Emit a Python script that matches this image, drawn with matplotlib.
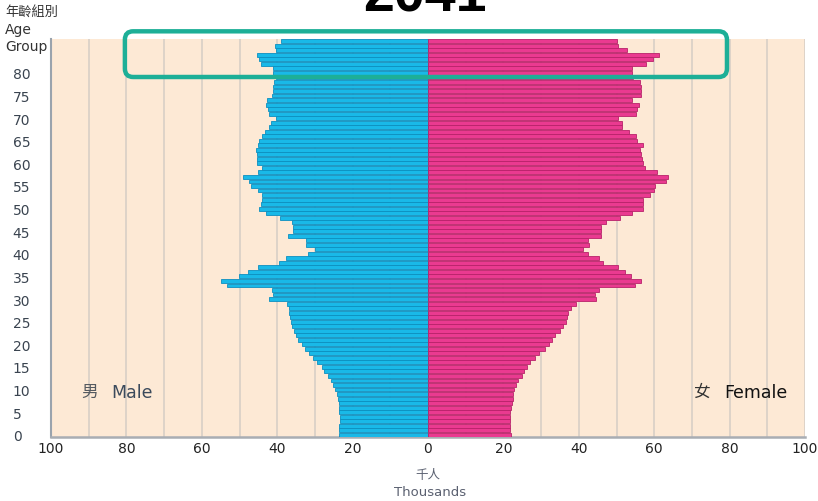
import matplotlib.pyplot as plt
from matplotlib.patches import FancyBboxPatch
import numpy as np

plt.rcParams['font.family'] = ['DejaVu Sans', 'Noto Sans CJK TC']

# single year of age, thousands of persons
ages = np.arange(0, 88)
male = [23.7, 23.7, 23.5, 23.3, 23.3, 23.5, 23.5, 23.6, 23.8, 24.2,
        24.6, 25.1, 25.6, 26.4, 27.6, 28.2, 29.5, 30.5, 31.5, 32.6,
        33.5, 34.6, 35.0, 35.5, 36.0, 36.4, 36.6, 36.8, 37.0, 37.3,
        42.2, 41.0, 41.5, 53.2, 55.0, 50.1, 47.7, 45.2, 39.6, 37.7,
        31.8, 30.0, 32.4, 32.4, 37.1, 35.8, 35.8, 36.2, 39.3, 43.0,
        44.8, 44.3, 44.0, 43.9, 45.2, 47.0, 47.5, 49.0, 45.2, 44.1,
        45.4, 45.4, 45.3, 45.7, 45.2, 44.8, 44.1, 43.2, 42.2, 41.6,
        40.3, 42.2, 42.5, 43.0, 42.6, 41.5, 41.2, 41.2, 40.8, 40.3,
        41.0, 41.2, 44.3, 44.7, 45.4, 40.3, 40.6, 39.1]
female = [22.0, 21.8, 21.8, 21.8, 21.8, 21.8, 22.0, 22.2, 22.5, 22.6,
          22.9, 23.3, 24.0, 24.9, 25.5, 26.2, 27.0, 28.4, 29.5, 31.0,
          32.1, 32.8, 33.7, 35.0, 35.7, 36.5, 36.8, 37.2, 37.9, 39.2,
          44.5, 44.3, 45.4, 54.9, 56.4, 53.8, 52.3, 50.5, 46.5, 45.4,
          42.4, 41.2, 42.8, 42.5, 46.0, 46.0, 46.0, 47.2, 50.9, 54.2,
          57.0, 57.1, 57.1, 58.9, 60.0, 60.2, 63.1, 63.7, 60.7, 57.6,
          57.0, 56.7, 56.4, 56.2, 57.0, 55.5, 55.2, 53.4, 51.4, 51.4,
          50.5, 55.3, 55.5, 56.0, 54.0, 56.4, 56.4, 56.4, 56.2, 54.3,
          54.0, 54.2, 57.8, 59.6, 61.4, 52.7, 50.5, 50.0]

xticks = np.arange(-100, 101, 20)
xtick_labels = [str(abs(v)) for v in xticks]
yticks = np.arange(0, 81, 5)

W, H = 818, 502
fig = plt.figure(figsize=(W / 100, H / 100), dpi=100)
ax = fig.add_axes([51 / W, 1 - 438 / H, (805 - 51) / W, (438 - 40) / H])
ax.set_facecolor('#fde9d5')

ax.barh(ages, -np.array(male), height=0.86, color='#19b9e8',
        edgecolor='#0d8fbf', linewidth=0.6, zorder=3)
ax.barh(ages, female, height=0.86, color='#ea3a90',
        edgecolor='#b8226a', linewidth=0.6, zorder=3)

ax.set_xlim(-100, 100)
ax.set_ylim(-0.5, 87.5)
for gx in np.arange(-90, 101, 10):
    ax.axvline(gx, color='#dbd1c7', linewidth=1.3, zorder=1)

ax.set_xticks(xticks)
ax.set_xticklabels(xtick_labels, fontsize=10, color='#222222')
ax.set_yticks(yticks)
ax.set_yticklabels([str(v) for v in yticks], fontsize=10, color='#3a4450')
ax.tick_params(axis='x', length=0, pad=3)
ax.tick_params(axis='y', length=0, pad=27.5)
for lbl in ax.get_yticklabels():
    lbl.set_horizontalalignment('left')

for s in ['top', 'right']:
    ax.spines[s].set_visible(False)
ax.spines['left'].set_color('#9aa3ad')
ax.spines['left'].set_linewidth(1.5)
ax.spines['bottom'].set_color('#a9adb3')
ax.spines['bottom'].set_linewidth(1.8)

# labels
fig.text(5 / W, 1 - 13 / H, '年齡組別', fontsize=9.5, color='#333333',
         va='center', ha='left', family=['Noto Sans CJK TC'])
fig.text(5 / W, 1 - 30 / H, 'Age', fontsize=10, color='#333333',
         va='center', ha='left')
fig.text(5 / W, 1 - 47 / H, 'Group', fontsize=10, color='#333333',
         va='center', ha='left')

ax.text(-92, 9.5, '男', fontsize=12, color='#555a60', va='center',
        family=['Noto Sans CJK TC'])
ax.text(-84, 9.5, 'Male', fontsize=12.5, color='#3b4a5c', va='center')
ax.text(70.5, 9.5, '女', fontsize=12, color='#333333', va='center',
        family=['Noto Sans CJK TC'])
ax.text(78.5, 9.5, 'Female', fontsize=12.5, color='#111111', va='center')

fig.text(428 / W, 1 - 475 / H, '千人', fontsize=9, color='#5a6070',
         ha='center', va='center', family=['Noto Sans CJK TC'])
fig.text(430 / W, 1 - 493 / H, 'Thousands', fontsize=9.5, color='#5a6070',
         ha='center', va='center')

# year title, mostly cut off at the top edge as in the source
fig.text(425 / W, 1 - 12 / H, '2041', fontsize=40, color='black',
         weight='bold', ha='center', va='baseline',
         family=['Liberation Sans'])

# highlight box round the oldest ages
box = FancyBboxPatch((-80.4, 79.1), 159.7, 10.1,
                     boxstyle='round,pad=0,rounding_size=2.2',
                     mutation_aspect=0.84, fill=False,
                     edgecolor='#1daf97', linewidth=3.2,
                     clip_on=False, zorder=6)
ax.add_patch(box)

fig.savefig('out.png', dpi=100)
